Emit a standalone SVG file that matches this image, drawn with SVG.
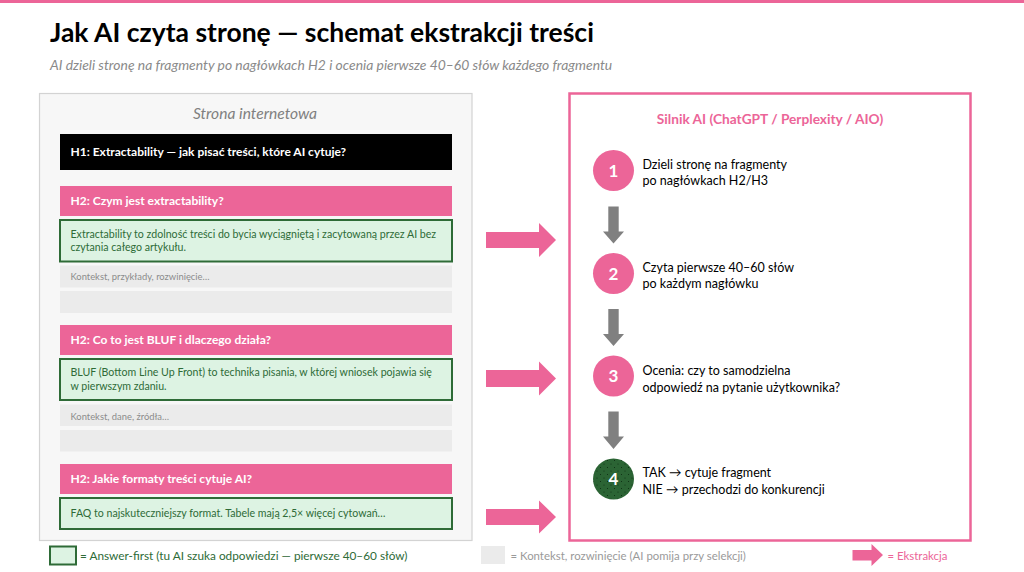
<svg xmlns="http://www.w3.org/2000/svg" width="1024" height="572" viewBox="0 0 1024 572">
<style>
text{font-family:Lato,"Open Sans","Noto Sans",sans-serif}
.title{font-size:26.5px;font-weight:700;fill:#000}
.sub{font-size:13.9px;font-style:italic;fill:#8a8a8a}
.panel{fill:#f7f7f7;stroke:#d3d3d3;stroke-width:1.2}
.ptitle{font-size:15.6px;font-style:italic;fill:#808080}
.h1{fill:#000}
.h2{fill:#ec6598}
.htxt{font-size:12px;font-weight:700;fill:#fff}
.ans{fill:#ddf3e3;stroke:#2e6b37;stroke-width:2}
.anstxt{font-size:10.6px;fill:#2e6b37}
.ctx{fill:#ebebeb}
.ctxtxt{font-size:9.4px;fill:#8c8c8c}
.engine{fill:#fff;stroke:#ec6598;stroke-width:2.5}
.etitle{font-size:13.7px;font-weight:700;fill:#ec6598}
.circ{fill:#ec6598}
.num{font-size:17px;font-weight:700;fill:#fff}
.step{font-size:12.5px;fill:#000}
.pink{fill:#ec6598}
.gray{fill:#808080}
.leg1{font-size:11.8px;fill:#2e6b37}
.leg2{font-size:11.4px;fill:#9a9a9a}
.leg3{font-size:11.4px;fill:#ec6598}
</style>
<defs>
<pattern id="dots" width="7" height="7" patternUnits="userSpaceOnUse">
<rect width="7" height="7" fill="#2b6434"/>
<circle cx="2" cy="2" r="0.55" fill="#0b2a10"/>
<circle cx="5.5" cy="5.5" r="0.55" fill="#0b2a10"/>
</pattern>
</defs>
<rect x="0" y="0" width="1024" height="572" fill="#fff"/>
<rect x="0" y="0" width="1024" height="3" fill="#ec6598"/>

<g id="header">
<text class="title" x="50" y="42">Jak AI czyta stronę — schemat ekstrakcji treści</text>
<text class="sub" x="50" y="70">AI dzieli stronę na fragmenty po nagłówkach H2 i ocenia pierwsze 40–60 słów każdego fragmentu</text>
</g>

<g id="page">
<rect class="panel" x="39.5" y="93.5" width="432.5" height="447"/>
<text class="ptitle" x="255" y="119" text-anchor="middle">Strona internetowa</text>
</g>

<g id="h1">
<rect class="h1" x="60" y="134" width="392" height="36"/>
<text class="htxt" x="70.5" y="156">H1: Extractability — jak pisać treści, które AI cytuje?</text>
</g>

<g id="h2-1">
<rect class="h2" x="60" y="186" width="392" height="30"/>
<text class="htxt" x="70.5" y="205">H2: Czym jest extractability?</text>
</g>
<g id="answer-1">
<rect class="ans" x="60" y="220" width="392" height="41.5"/>
<text class="anstxt" x="70.5" y="237.5">Extractability to zdolność treści do bycia wyciągniętą i zacytowaną przez AI bez</text>
<text class="anstxt" x="70.5" y="250.5">czytania całego artykułu.</text>
</g>
<g id="context-1">
<rect class="ctx" x="60" y="265.5" width="392" height="22"/>
<text class="ctxtxt" x="70.5" y="280">Kontekst, przykłady, rozwinięcie…</text>
</g>
<g id="context-2">
<rect class="ctx" x="60" y="291" width="392" height="22"/>
</g>

<g id="h2-2">
<rect class="h2" x="60" y="325" width="392" height="30"/>
<text class="htxt" x="70.5" y="344">H2: Co to jest BLUF i dlaczego działa?</text>
</g>
<g id="answer-2">
<rect class="ans" x="60" y="359" width="392" height="41"/>
<text class="anstxt" x="70.5" y="376">BLUF (Bottom Line Up Front) to technika pisania, w której wniosek pojawia się</text>
<text class="anstxt" x="70.5" y="389.5">w pierwszym zdaniu.</text>
</g>
<g id="context-3">
<rect class="ctx" x="60" y="404.5" width="392" height="21.5"/>
<text class="ctxtxt" x="70.5" y="419.5">Kontekst, dane, źródła…</text>
</g>
<g id="context-4">
<rect class="ctx" x="60" y="430" width="392" height="21.5"/>
</g>

<g id="h2-3">
<rect class="h2" x="60" y="464" width="392" height="30"/>
<text class="htxt" x="70.5" y="483">H2: Jakie formaty treści cytuje AI?</text>
</g>
<g id="answer-3">
<rect class="ans" x="60" y="498" width="392" height="31"/>
<text class="anstxt" x="70.5" y="517">FAQ to najskuteczniejszy format. Tabele mają 2,5× więcej cytowań…</text>
</g>

<g id="engine">
<rect class="engine" x="569.5" y="93.5" width="401" height="447"/>
<text class="etitle" x="770" y="124" text-anchor="middle">Silnik AI (ChatGPT / Perplexity / AIO)</text>
</g>

<g id="step-1">
<circle class="circ" cx="613.5" cy="170.5" r="20.5"/>
<text class="num" x="613.5" y="176.5" text-anchor="middle">1</text>
<text class="step" x="642.5" y="168.5">Dzieli stronę na fragmenty</text>
<text class="step" x="642.5" y="185">po nagłówkach H2/H3</text>
</g>
<g id="step-2">
<circle class="circ" cx="613.5" cy="273.5" r="20.5"/>
<text class="num" x="613.5" y="279.5" text-anchor="middle">2</text>
<text class="step" x="642.5" y="271.5">Czyta pierwsze 40–60 słów</text>
<text class="step" x="642.5" y="288">po każdym nagłówku</text>
</g>
<g id="step-3">
<circle class="circ" cx="613.5" cy="376" r="20.5"/>
<text class="num" x="613.5" y="382" text-anchor="middle">3</text>
<text class="step" x="642.5" y="375">Ocenia: czy to samodzielna</text>
<text class="step" x="642.5" y="392">odpowiedź na pytanie użytkownika?</text>
</g>
<g id="step-4">
<circle cx="613.5" cy="479" r="20.5" fill="url(#dots)"/>
<text class="num" x="613.5" y="485" text-anchor="middle">4</text>
<text class="step" x="642.5" y="477">TAK → cytuje fragment</text>
<text class="step" x="642.5" y="494">NIE → przechodzi do konkurencji</text>
</g>

<g id="connectors">
<polygon class="pink" points="486,232 539,232 539,223 556,240 539,257 539,248 486,248"/>
<polygon class="pink" points="486,370 539,370 539,361.5 556,378.5 539,395.5 539,387 486,387"/>
<polygon class="pink" points="486,509 539,509 539,500.5 556,517 539,533.5 539,525 486,525"/>
<polygon class="gray" points="608.3,206.5 618.7,206.5 618.7,231.5 624,231.5 613.5,243.5 603,231.5 608.3,231.5"/>
<polygon class="gray" points="608.3,309 618.7,309 618.7,334 624,334 613.5,346 603,334 608.3,334"/>
<polygon class="gray" points="608.3,411.5 618.7,411.5 618.7,436.5 624,436.5 613.5,449 603,436.5 608.3,436.5"/>
</g>

<g id="legend">
<rect class="ans" x="50" y="546.5" width="26" height="18" stroke-width="1.5"/>
<text class="leg1" x="80" y="559.5">= Answer-first (tu AI szuka odpowiedzi — pierwsze 40–60 słów)</text>
<rect class="ctx" x="481" y="546" width="24" height="18"/>
<text class="leg2" x="510.5" y="559.5">= Kontekst, rozwinięcie (AI pomija przy selekcji)</text>
<polygon class="pink" points="852.5,550 871.5,550 871.5,544 883,555 871.5,566 871.5,560.5 852.5,560.5"/>
<text class="leg3" x="887.5" y="559.5">= Ekstrakcja</text>
</g>
</svg>
